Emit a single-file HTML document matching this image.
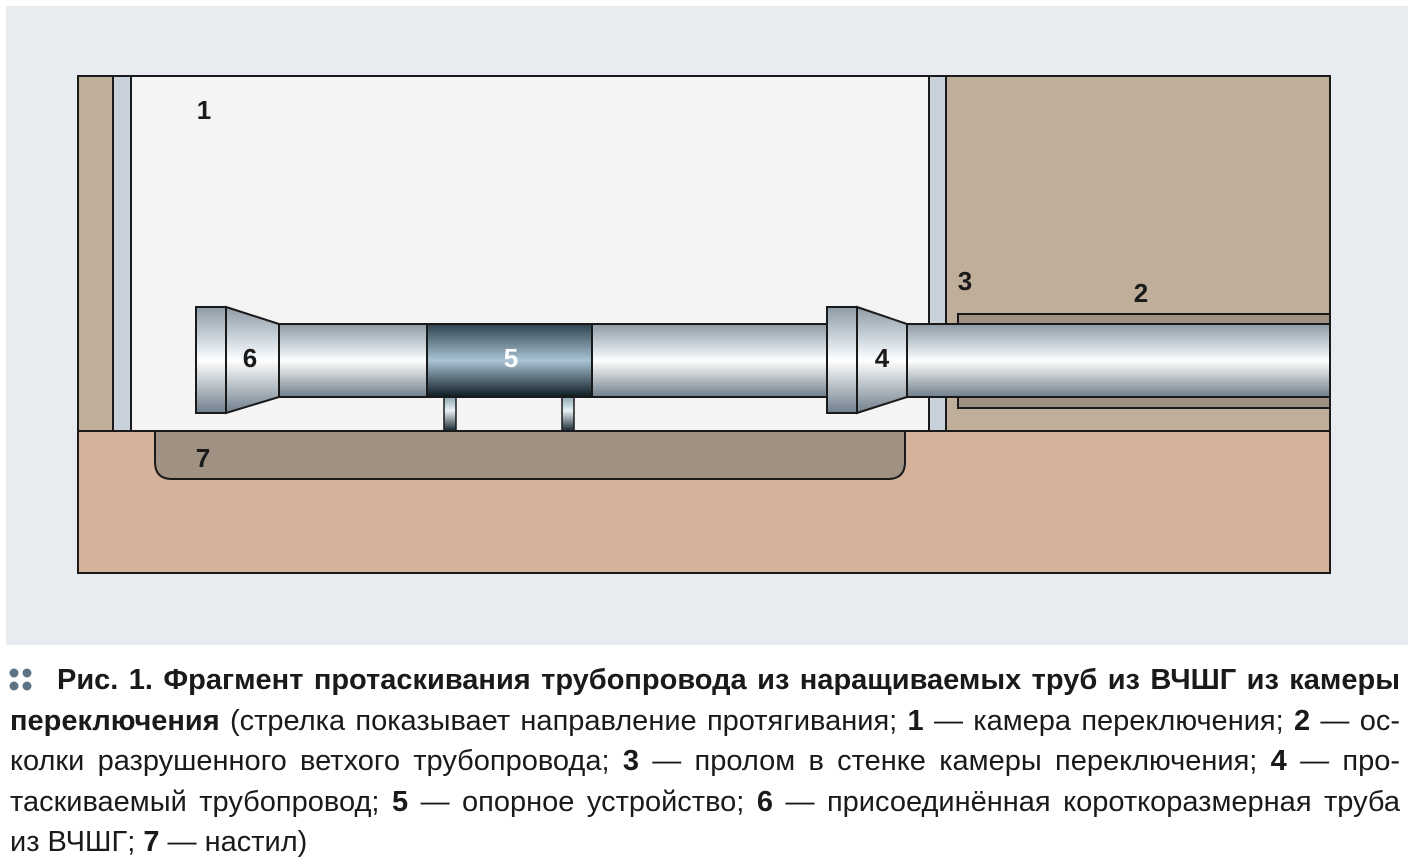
<!DOCTYPE html>
<html><head><meta charset="utf-8"><style>
body{margin:0;width:1415px;height:867px;background:#fff;overflow:hidden;position:relative;font-family:"Liberation Sans Narrow","Liberation Sans",sans-serif;}
svg{position:absolute;left:0;top:0}
.cap{position:absolute;left:10px;width:1390px;font-size:29px;color:#1a1a1a;line-height:40.5px;}
.l{text-align:justify;text-align-last:justify;white-space:nowrap;height:40.5px}
.l.last{text-align-last:left}
b{font-weight:bold}
</style></head><body>
<svg width="1415" height="700" viewBox="0 0 1415 700">
<defs>
<linearGradient id="pg" x1="0" y1="0" x2="0" y2="1">
<stop offset="0" stop-color="#8e9ba6"/><stop offset="0.45" stop-color="#eef4f8"/><stop offset="0.5" stop-color="#ffffff"/><stop offset="1" stop-color="#6f7f8c"/></linearGradient>
<linearGradient id="dg" x1="0" y1="0" x2="0" y2="1">
<stop offset="0" stop-color="#2f434f"/><stop offset="0.5" stop-color="#a9c3d3"/><stop offset="1" stop-color="#0c1a22"/></linearGradient>
<linearGradient id="sg" x1="0" y1="0" x2="0" y2="1">
<stop offset="0" stop-color="#8ea6b4"/><stop offset="0.4" stop-color="#e8f0f4"/><stop offset="1" stop-color="#142530"/></linearGradient>
</defs>
<rect x="6" y="6" width="1402" height="639" fill="#e8ebef"/>
<rect x="78" y="76" width="1252" height="497" fill="#d4b39a" stroke="#1a1a1a" stroke-width="2"/>
<rect x="78" y="76" width="35" height="355" fill="#bfae9a" stroke="#1a1a1a" stroke-width="2"/>
<rect x="113" y="76" width="18" height="355" fill="#c9d2db" stroke="#1a1a1a" stroke-width="2"/>
<rect x="131" y="76" width="798" height="355" fill="#f4f4f4" stroke="#1a1a1a" stroke-width="2"/>
<rect x="929" y="76" width="17" height="355" fill="#c9d2db" stroke="#1a1a1a" stroke-width="2"/>
<rect x="946" y="76" width="384" height="355" fill="#bfae9a" stroke="#1a1a1a" stroke-width="2"/>
<path d="M155 431 V462 Q155 479 172 479 H888 Q905 479 905 462 V431 Z" fill="#a09282" stroke="#1a1a1a" stroke-width="2"/>
<rect x="958" y="314" width="372" height="94" fill="#a09282" stroke="#1a1a1a" stroke-width="2"/>
<rect x="444" y="397" width="12" height="34" fill="url(#sg)" stroke="#1a1a1a" stroke-width="1.5"/>
<rect x="562" y="397" width="12" height="34" fill="url(#sg)" stroke="#1a1a1a" stroke-width="1.5"/>
<rect x="279" y="324" width="549" height="73" fill="url(#pg)" stroke="#1a1a1a" stroke-width="2"/>
<rect x="427" y="324" width="165" height="73" fill="url(#dg)" stroke="#1a1a1a" stroke-width="2"/>
<rect x="196" y="307" width="30" height="106" fill="url(#pg)" stroke="#1a1a1a" stroke-width="2"/>
<path d="M226 307 L279 324 V397 L226 413 Z" fill="url(#pg)" stroke="#1a1a1a" stroke-width="2"/>
<rect x="907" y="324" width="423" height="73" fill="url(#pg)" stroke="#1a1a1a" stroke-width="2"/>
<rect x="827" y="307" width="30" height="106" fill="url(#pg)" stroke="#1a1a1a" stroke-width="2"/>
<path d="M857 307 L907 324 V397 L857 413 Z" fill="url(#pg)" stroke="#1a1a1a" stroke-width="2"/>
<g font-family="Liberation Sans Narrow, Liberation Sans, sans-serif" font-weight="bold" font-size="26" fill="#1a1a1a" text-anchor="middle">
<text x="204" y="119">1</text>
<text x="250" y="367">6</text>
<text x="511" y="367" fill="#fff">5</text>
<text x="882" y="367">4</text>
<text x="965" y="290">3</text>
<text x="1141" y="302">2</text>
<text x="203" y="467">7</text>
</g>
<g fill="#5d7282"><circle cx="14" cy="673" r="4.5"/><circle cx="27" cy="673" r="4.5"/><circle cx="14" cy="686" r="4.5"/><circle cx="27" cy="686" r="4.5"/></g>
</svg>
<div class="cap" style="top:660px">
<div class="l" style="padding-left:47px;width:1343px"><b>Рис. 1. Фрагмент протаскивания трубопровода из наращиваемых труб из ВЧШГ из камеры</b></div>
<div class="l"><b>переключения</b> (стрелка показывает направление протягивания; <b>1</b> — камера переключения; <b>2</b> — ос-</div>
<div class="l">колки разрушенного ветхого трубопровода; <b>3</b> — пролом в стенке камеры переключения; <b>4</b> — про-</div>
<div class="l">таскиваемый трубопровод; <b>5</b> — опорное устройство; <b>6</b> — присоединённая короткоразмерная труба</div>
<div class="l last">из ВЧШГ; <b>7</b> — настил)</div>
</div>
</body></html>
